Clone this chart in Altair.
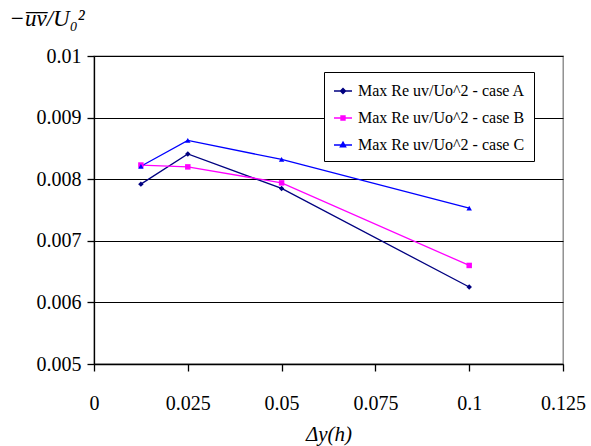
import altair as alt
import pandas as pd

# Grid spacing (in units of h) and peak Reynolds stress for each case
dy = [0.0125, 0.025, 0.05, 0.1]
case_a = [0.00792, 0.00841, 0.00785, 0.00625]
case_b = [0.00823, 0.00820, 0.00794, 0.00660]
case_c = [0.00821, 0.00863, 0.00832, 0.00753]

series_names = [
    "Max Re uv/Uo^2 - case A",
    "Max Re uv/Uo^2 - case B",
    "Max Re uv/Uo^2 - case C",
]
series_colors = ["#000080", "#FF00FF", "#0000FF"]
marker_shapes = ["diamond", "square", "triangle-up"]
# legend glyphs: short line sample with the marker in the middle
legend_glyphs = [
    "M-0.9,0L0.9,0M0,-0.25L0.25,0L0,0.25L-0.25,0Z",
    "M-0.9,0L0.9,0M-0.2,-0.2L0.2,-0.2L0.2,0.2L-0.2,0.2Z",
    "M-0.9,0L0.9,0M0,-0.28L0.26,0.18L-0.26,0.18Z",
]

x_ticks = [0, 0.025, 0.05, 0.075, 0.1, 0.125]
y_ticks = [0.005, 0.006, 0.007, 0.008, 0.009, 0.01]

rows = []
for name, vals in zip(series_names, [case_a, case_b, case_c]):
    for x, y in zip(dy, vals):
        rows.append({"dy": x, "uv": y, "series": name})
df = pd.DataFrame(rows)

FONT = "Liberation Serif"

x_enc = alt.X(
    "dy:Q",
    scale=alt.Scale(domain=[0, 0.125], nice=False, zero=False),
    axis=alt.Axis(
        values=x_ticks, labelExpr="datum.value + ''", title="Δy(h)", grid=False,
        tickSize=7, labelPadding=22, titlePadding=10, labelFlush=False,
        labelFontSize=20, titleFontSize=21, titleFontStyle="italic",
        titleFontWeight="normal", labelFont=FONT, titleFont=FONT,
    ),
)
y_enc = alt.Y(
    "uv:Q",
    scale=alt.Scale(domain=[0.005, 0.01], nice=False, zero=False),
    axis=alt.Axis(
        values=y_ticks, labelExpr="datum.value + ''", grid=True, labelFlush=False,
        tickSize=7, labelPadding=6, labelFontSize=20, labelFont=FONT, titleFont=FONT,
        title="−u\u0305v\u0305/U₀²", titleAngle=0, titleAlign="left",
        titleBaseline="middle", titleX=-85, titleY=-38,
        titleFontSize=23, titleFontStyle="italic", titleFontWeight="normal",
    ),
)

color_scale = alt.Scale(domain=series_names, range=series_colors)

base = alt.Chart(df)

lines = base.mark_line(strokeWidth=1.3).encode(
    x=x_enc,
    y=y_enc,
    color=alt.Color(
        "series:N",
        scale=color_scale,
        legend=alt.Legend(title=None, orient="none", legendX=230, legendY=16,
                          labelFont=FONT, labelFontSize=16, labelColor="black",
                          padding=8, symbolSize=400, symbolStrokeWidth=1.4,
                          symbolOpacity=1, rowPadding=8, labelOffset=4,
                          labelLimit=300, strokeColor="black", fillColor="white"),
    ),
)

point_layers = []
for name, col, shp in zip(series_names, series_colors, marker_shapes):
    point_layers.append(
        base.transform_filter(alt.datum.series == name)
        .mark_point(filled=True, shape=shp, size=30, color=col, opacity=1)
        .encode(x="dy:Q", y="uv:Q")
    )

# transparent copy of the points that supplies the legend glyphs
legend_layer = base.mark_point(filled=True, opacity=0).encode(
    x="dy:Q",
    y="uv:Q",
    color=alt.Color("series:N", scale=color_scale),
    shape=alt.Shape("series:N", scale=alt.Scale(domain=series_names, range=legend_glyphs)),
)

chart = (
    alt.layer(lines, *point_layers, legend_layer)
    .properties(
        width=469, height=308,
        autosize=alt.AutoSizeParams(type="none"),
        padding={"left": 94, "top": 56, "right": 28, "bottom": 82},
        background="white",
    )
    .configure(font=FONT)
    .configure_legend(symbolOpacity=1, symbolStrokeWidth=1.4)
    .configure_view(stroke="#808080", strokeWidth=1.3)
    .configure_axis(
        labelColor="black", titleColor="black",
        domainColor="black", tickColor="black", gridColor="black",
        gridWidth=1, domainWidth=1.3, tickWidth=1.3, gridOpacity=1,
    )
)

chart.save("out.html", embed_options={"renderer": "svg", "actions": False})
